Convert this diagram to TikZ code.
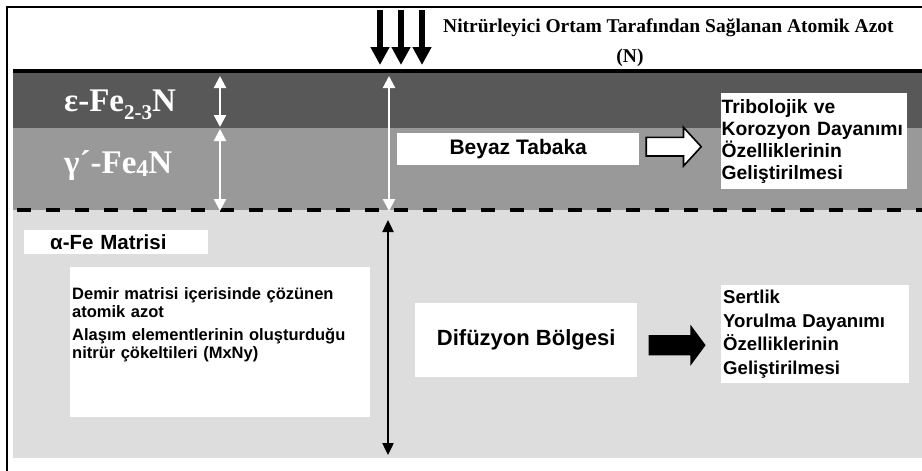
\documentclass[tikz,border=0pt]{standalone}
\usepackage{fontspec}
\setmainfont{Liberation Serif}
\setsansfont{Liberation Sans}
\usetikzlibrary{arrows.meta,shapes.arrows}
\definecolor{epsgray}{HTML}{585858}
\definecolor{gamgray}{HTML}{999999}
\definecolor{difgray}{HTML}{DDDDDD}
\newcommand\fsz[2]{\fontsize{#1}{#2}\selectfont}
\tikzset{
  whitebox/.style={fill=white, inner sep=0pt},
  boxtext/.style 2 args={font=\sffamily\bfseries\fsz{#1}{#2}, text=black},
  layerlabel/.style={font=\bfseries\fsz{33}{36}, text=white, anchor=base west, inner sep=0pt},
  nflux/.style={line width=6.5pt, -{Triangle[width=18pt,length=18pt]}},
  whitedim/.style={white, line width=2.2pt, {Triangle[width=12pt,length=12pt]}-{Triangle[width=12pt,length=12pt]}},
  blackdim/.style={black, line width=2.4pt, {Triangle[width=11pt,length=12pt]}-{Triangle[width=11pt,length=12pt]}},
  hollowarrow/.style={single arrow, draw, fill=white, line width=1.6pt, minimum height=55pt,
    inner xsep=0pt, inner ysep=8.5pt, text height=0pt, text depth=0pt,
    single arrow head extend=10pt, single arrow tip angle=95},
  solidarrow/.style={single arrow, fill=black, minimum height=57pt,
    inner xsep=0pt, inner ysep=10pt, text height=0pt, text depth=0pt,
    single arrow head extend=10.5pt, single arrow tip angle=107}
}
\begin{document}
\begin{tikzpicture}[x=1pt,y=-1pt]
\useasboundingbox (0,0) rectangle (922,471);
% layers
\fill[epsgray] (13,71) rectangle (922,128);
\fill[gamgray] (13,128) rectangle (922,210);
\fill[difgray] (13,210) rectangle (922,458);
\draw[line width=3.5pt] (13,71) -- (922,71);
\draw[line width=4.5pt, dash pattern=on 14pt off 15pt] (17,210) -- (922,210);
\draw[line width=1.2pt] (7,471) -- (7,7) -- (922,7);
% nitrogen from the medium
\node[font=\bfseries\fsz{19.5}{22}, anchor=base west, inner sep=0pt] (supply) at (443,32) {Nitrürleyici Ortam Tarafından Sağlanan Atomik Azot};
\node[font=\bfseries\fsz{19.5}{22}, anchor=base, inner sep=0pt] (nsym) at (630,62) {(N)};
\foreach \x/\n in {380/a,401/b,422/c} {
  \coordinate (in\n) at (\x,10);
  \coordinate (surf\n) at (\x,65);
  \draw[nflux] (in\n) -- (surf\n);
}
% compound layer
\node[layerlabel] (eps) at (64,111.5) {ε-Fe\raisebox{-8pt}{\fsz{21}{21}2-3}N};
\node[layerlabel] (gam) at (64,173) {γ´-Fe\raisebox{-3pt}{\fsz{24}{24}4}N};
\coordinate (epstop) at (220,76);
\coordinate (epsbot) at (220,127);
\coordinate (gamtop) at (220,129);
\coordinate (gambot) at (220,211);
\coordinate (whtop) at (389,76);
\coordinate (whbot) at (389,211);
\draw[whitedim] (epstop) -- (epsbot);
\draw[whitedim] (gamtop) -- (gambot);
\draw[whitedim] (whtop) -- (whbot);
\node[whitebox, boxtext={21}{24}, minimum width=242pt, minimum height=32pt, anchor=north west] (beyaz) at (397,133) {Beyaz Tabaka};
\node[hollowarrow, anchor=west] (wlarrow) at ([xshift=6pt, yshift=2.5pt]beyaz.east) {};
\node[whitebox, boxtext={19.3}{22}, text width=185pt, inner xsep=0.5pt, minimum height=96pt, align=left, anchor=north west] (tribo) at (721,93) {Tribolojik ve\\Korozyon Dayanımı\\Özelliklerinin\\Geliştirilmesi};
% diffusion zone
\node[whitebox, boxtext={20.5}{22}, text width=184pt, inner xsep=0pt, minimum height=24pt, align=left, anchor=north west] (matrisi) at (24,230) {\hspace*{26pt}α-Fe Matrisi};
\node[whitebox, minimum width=300pt, minimum height=150pt, anchor=north west] (dembox) at (70,267) {};
\node[boxtext={16.5}{18}, text width=296pt, align=left, anchor=north west, inner sep=0pt] (demtext) at (72,287) {Demir matrisi içerisinde çözünen\\atomik azot\\[5pt]Alaşım elementlerinin oluşturduğu\\nitrür çökeltileri (MxNy)};
\coordinate (diftop) at (388,220);
\coordinate (difbot) at (388,455);
\draw[blackdim] (diftop) -- (difbot);
\node[whitebox, boxtext={22}{26}, minimum width=222pt, minimum height=74pt, anchor=north west] (difbox) at (415,303) {Difüzyon Bölgesi};
\node[solidarrow, anchor=west] (dfarrow) at ([xshift=11pt, yshift=-5pt]difbox.east) {};
\node[whitebox, boxtext={18.6}{23.5}, text width=184pt, inner xsep=2pt, minimum height=98pt, align=left, anchor=north west] (sert) at (721,285) {Sertlik\\Yorulma Dayanımı\\Özelliklerinin\\Geliştirilmesi};
\end{tikzpicture}
\end{document}
